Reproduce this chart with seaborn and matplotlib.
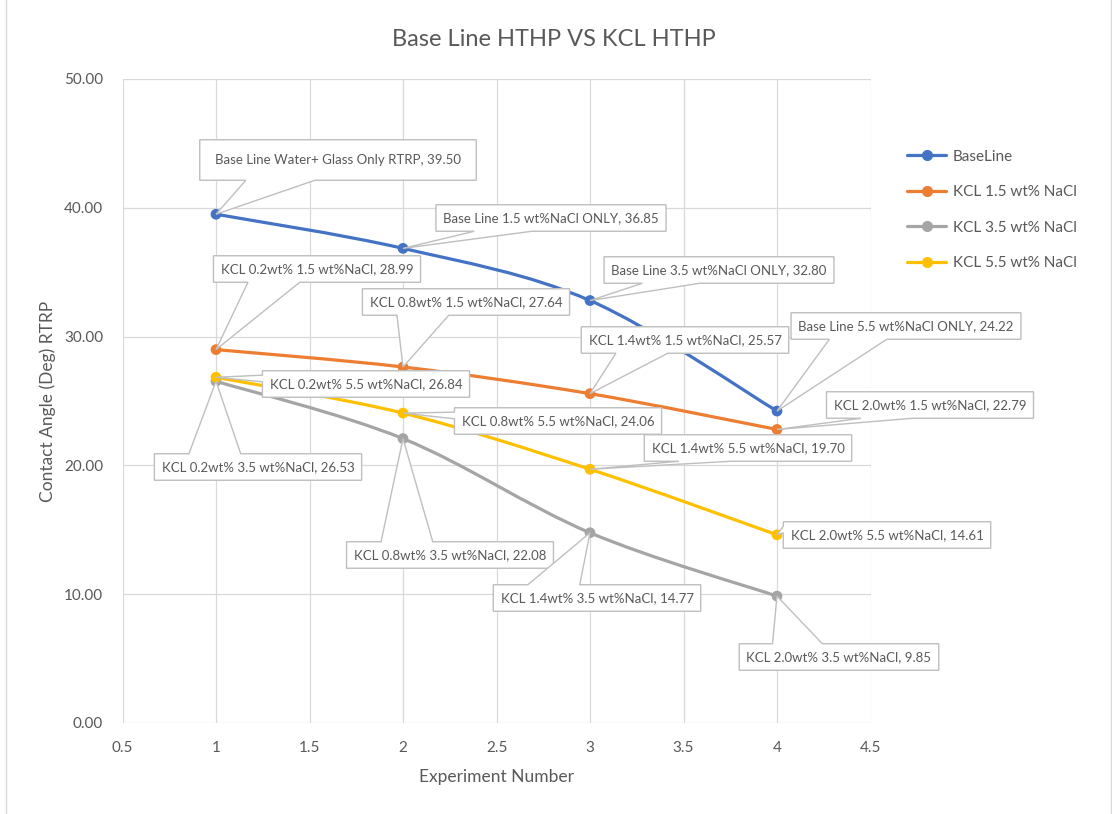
import numpy as np
import pandas as pd
import seaborn as sns
import matplotlib
matplotlib.use("Agg")
import matplotlib.pyplot as plt
from matplotlib.path import Path
from matplotlib.patches import PathPatch, Polygon
from matplotlib.lines import Line2D
from matplotlib.transforms import IdentityTransform

# ---- data ----
experiments = [1, 2, 3, 4]
series_names = ["BaseLine", "KCL 1.5 wt% NaCl", "KCL 3.5 wt% NaCl", "KCL 5.5 wt% NaCl"]
baseline = [39.50, 36.85, 32.80, 24.22]
kcl_15 = [28.99, 27.64, 25.57, 22.79]
kcl_35 = [26.53, 22.08, 14.77, 9.85]
kcl_55 = [26.84, 24.06, 19.70, 14.61]

baseline_labels = ["Base Line Water+ Glass Only RTRP", "Base Line 1.5 wt%NaCl ONLY",
                   "Base Line 3.5 wt%NaCl ONLY", "Base Line 5.5 wt%NaCl ONLY"]
kcl_15_labels = ["KCL 0.2wt% 1.5 wt%NaCl", "KCL 0.8wt% 1.5 wt%NaCl",
                 "KCL 1.4wt% 1.5 wt%NaCl", "KCL 2.0wt% 1.5 wt%NaCl"]
kcl_35_labels = ["KCL 0.2wt% 3.5 wt%NaCl", "KCL 0.8wt% 3.5 wt%NaCl",
                 "KCL 1.4wt% 3.5 wt%NaCl", "KCL 2.0wt% 3.5 wt%NaCl"]
kcl_55_labels = ["KCL 0.2wt% 5.5 wt%NaCl", "KCL 0.8wt% 5.5 wt%NaCl",
                 "KCL 1.4wt% 5.5 wt%NaCl", "KCL 2.0wt% 5.5 wt%NaCl"]

x_ticks = [0.5, 1, 1.5, 2, 2.5, 3, 3.5, 4, 4.5]
y_ticks = [0, 10, 20, 30, 40, 50]

colors = ["#4472C4", "#ED7D31", "#A5A5A5", "#FFC000"]

# callout box centres in figure pixels (from top-left), one per point
callout_centres = [
    [(338, 160), (551, 218), (719, 270), (906, 326)],
    [(317, 269), (466, 302), (685, 340), (930, 405)],
    [(258, 467), (450, 555), (597, 598), (839, 657)],
    [(366, 384), (558, 421), (748, 448), (887, 535)],
]
# extra box margins (pixels, x / y) for the wider first baseline callout
extra_margin = {(0, 0): (8, 7)}

all_values = [baseline, kcl_15, kcl_35, kcl_55]
all_labels = [baseline_labels, kcl_15_labels, kcl_35_labels, kcl_55_labels]

df = pd.DataFrame({
    "Experiment": experiments * 4,
    "Angle": baseline + kcl_15 + kcl_35 + kcl_55,
    "Series": [s for s in series_names for _ in experiments],
})

sns.set_theme(style="white")
plt.rcParams["font.family"] = ["Lato", "DejaVu Sans"]
text_color = "#595959"

W, H = 1112, 814
fig = plt.figure(figsize=(W / 100, H / 100), dpi=100)
ax = fig.add_axes([122.5 / W, 1 - 723 / H, 748 / W, 644 / H])


def smooth_path(xs, ys):
    """Bezier path through the points, with tangents from neighbouring points."""
    pts = np.column_stack([xs, ys]).astype(float)
    n = len(pts)
    verts = [pts[0]]
    codes = [Path.MOVETO]
    for i in range(n - 1):
        p_prev = pts[max(i - 1, 0)]
        p0, p1 = pts[i], pts[i + 1]
        p_next = pts[min(i + 2, n - 1)]
        c1 = p0 + (p1 - p_prev) / 6.0
        c2 = p1 - (p_next - p0) / 6.0
        verts += [c1, c2, p1]
        codes += [Path.CURVE4] * 3
    return Path(verts, codes)


for vals, col in zip(all_values, colors):
    ax.add_patch(PathPatch(smooth_path(experiments, vals), fc="none", ec=col,
                           lw=2.3, zorder=3, capstyle="round"))

sns.scatterplot(data=df, x="Experiment", y="Angle", hue="Series", palette=colors,
                s=60, edgecolor="none", legend=False, ax=ax, zorder=4)

ax.set_xlim(0.5, 4.5)
ax.set_ylim(0, 50)
ax.set_xticks(x_ticks)
ax.set_xticklabels([f"{t:g}" for t in x_ticks])
ax.set_yticks(y_ticks)
ax.set_yticklabels([f"{t:.2f}" for t in y_ticks])
ax.grid(True, color="#d9d9d9", lw=0.9)
ax.set_axisbelow(True)
for sp in ax.spines.values():
    sp.set_visible(False)
ax.tick_params(length=0, labelsize=11, labelcolor=text_color)
ax.tick_params(axis="y", pad=14)
ax.tick_params(axis="x", pad=13)
ax.set_xlabel("Experiment Number", fontsize=12.5, color=text_color, labelpad=10)
ax.set_ylabel("Contact Angle (Deg) RTRP", fontsize=12.5, color=text_color, labelpad=6)
fig.text(554 / W, 1 - 40 / H, "Base Line HTHP VS KCL HTHP", ha="center", va="center",
         fontsize=17, color=text_color)

# legend
handles = [Line2D([], [], color=c, lw=2.3, marker="o", markersize=7) for c in colors]
fig.legend(handles, series_names, loc="upper left", bbox_to_anchor=(893 / W, 1 - 136 / H),
           frameon=False, fontsize=11, labelcolor=text_color, handlelength=2.6,
           labelspacing=1.4, handletextpad=0.4)

# callout labels
texts = []
for si, (vals, labels, centres) in enumerate(zip(all_values, all_labels, callout_centres)):
    for pi, (xv, v, lab, (cx, cy)) in enumerate(zip(experiments, vals, labels, centres)):
        t = ax.annotate(f"{lab}, {v:.2f}", xy=(xv, v), xytext=(cx, H - cy),
                        textcoords="figure pixels", ha="center", va="center",
                        fontsize=9.5, color=text_color, zorder=7,
                        bbox=dict(boxstyle="square,pad=0.55", fc="none", ec="none"))
        texts.append((t, xv, v, extra_margin.get((si, pi), (0, 0))))

fig.canvas.draw()
for t, xv, v, (mx, my) in texts:
    bb = t.get_bbox_patch().get_window_extent()
    x0, y0, x1, y1 = bb.x0 - mx, bb.y0 - my, bb.x1 + mx, bb.y1 + my
    w, h = x1 - x0, y1 - y0
    px, py = ax.transData.transform((xv, v))
    hc, vc = (x0 + x1) / 2, (y0 + y1) / 2
    dx, dy = px - hc, py - vc
    # wedge base on the side facing the point
    if abs(dy) - abs(dx * h / w) > 0:
        if dx > 0:
            b1, b2 = x0 + w * 7 / 12, x0 + w * 10 / 12
        else:
            b1, b2 = x0 + w * 2 / 12, x0 + w * 5 / 12
        if dy < 0:
            verts = [(x0, y1), (x1, y1), (x1, y0), (b2, y0), (px, py), (b1, y0), (x0, y0)]
        else:
            verts = [(x0, y0), (x1, y0), (x1, y1), (b2, y1), (px, py), (b1, y1), (x0, y1)]
    else:
        if dy > 0:
            b1, b2 = y0 + h * 7 / 12, y0 + h * 10 / 12
        else:
            b1, b2 = y0 + h * 2 / 12, y0 + h * 5 / 12
        if dx < 0:
            verts = [(x1, y0), (x1, y1), (x0, y1), (x0, b2), (px, py), (x0, b1), (x0, y0)]
        else:
            verts = [(x0, y0), (x0, y1), (x1, y1), (x1, b2), (px, py), (x1, b1), (x1, y0)]
    ax.add_patch(Polygon(verts, closed=True, fc="white", ec="#bfbfbf", lw=1.0,
                         transform=IdentityTransform(), zorder=6, clip_on=False))

# figure frame edges
fig.add_artist(Line2D([6 / W, 6 / W], [0, 1], color="#d9d9d9", lw=1.0, transform=fig.transFigure))
fig.add_artist(Line2D([1110.5 / W, 1110.5 / W], [0, 1], color="#d9d9d9", lw=1.0, transform=fig.transFigure))

fig.savefig("out.png", dpi=100)
